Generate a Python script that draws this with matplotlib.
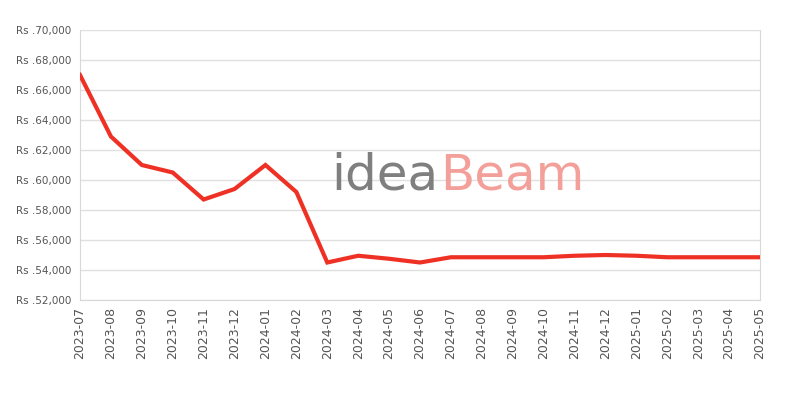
import matplotlib
matplotlib.use("Agg")
import matplotlib.pyplot as plt
from matplotlib.ticker import FuncFormatter

# Datos del grafico (precio mensual en Rs)
meses = ["2023-07", "2023-08", "2023-09", "2023-10", "2023-11", "2023-12",
         "2024-01", "2024-02", "2024-03", "2024-04", "2024-05", "2024-06",
         "2024-07", "2024-08", "2024-09", "2024-10", "2024-11", "2024-12",
         "2025-01", "2025-02", "2025-03", "2025-04", "2025-05"]
precios = [67000, 62900, 61000, 60500, 58700, 59400,
           61000, 59200, 54500, 54950, 54750, 54500,
           54850, 54850, 54850, 54850, 54950, 55000,
           54950, 54850, 54850, 54850, 54850]
y_ticks = list(range(52000, 70001, 2000))

fig = plt.figure(figsize=(8, 4), dpi=100)
ax = fig.add_axes([0.1, 0.25, 0.85, 0.675])

# marca de agua
fig.text(0.548, 0.525, "idea", fontsize=36, color="#7f7f7f",
         ha="right", va="baseline", zorder=0)
fig.text(0.550, 0.525, "Beam", fontsize=36, color="#f4a09a",
         ha="left", va="baseline", zorder=0)

x = list(range(len(meses)))
ax.plot(x, precios, color="#ee3124", linewidth=3, solid_joinstyle="miter", zorder=3)

ax.set_xlim(0, len(meses) - 1)
ax.set_ylim(52000, 70000)
ax.set_xticks(x)
ax.set_xticklabels(meses, rotation=90)
ax.set_yticks(y_ticks)
ax.yaxis.set_major_formatter(FuncFormatter(lambda v, p: "Rs .{:,.0f}".format(v)))
ax.tick_params(axis="both", labelsize=7.5, labelcolor="#555555", length=0, pad=6)
ax.tick_params(axis="x", labelsize=9, pad=5)

ax.grid(axis="y", color="#e0e0e0", linewidth=1)
ax.set_axisbelow(True)
ax.patch.set_alpha(0)
for s in ["left", "bottom", "right"]:
    ax.spines[s].set_color("#d8d8d8")
ax.spines["top"].set_visible(False)

fig.savefig("out.png", dpi=100)
